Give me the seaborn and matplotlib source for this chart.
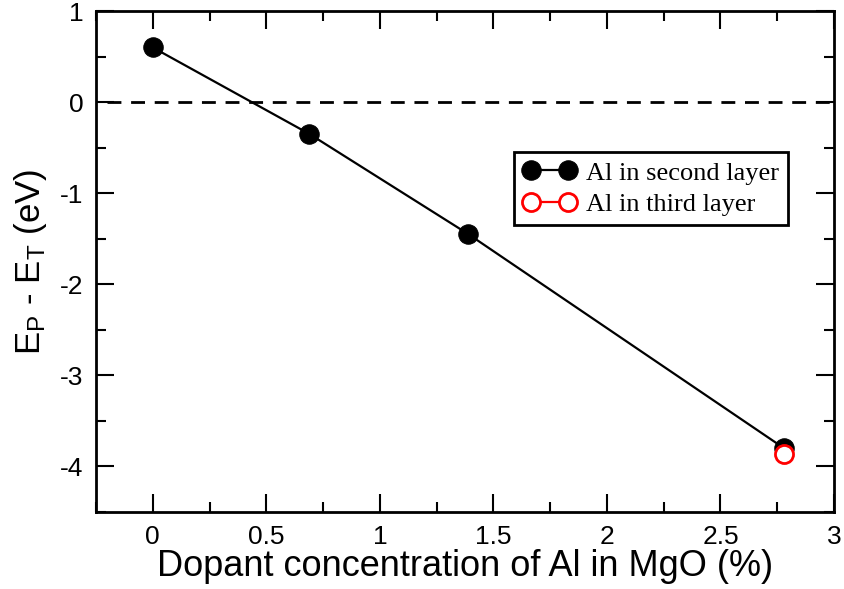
import matplotlib
matplotlib.use("Agg")
import matplotlib.pyplot as plt
import seaborn as sns
import pandas as pd
from matplotlib.ticker import MultipleLocator

# Al dopant concentration (%) and energy difference E_P - E_T (eV)
conc_second = [0.0, 0.69, 1.39, 2.78]
energy_second = [0.60, -0.35, -1.45, -3.80]
conc_third = [2.78]
energy_third = [-3.86]

labels = ["Al in second layer", "Al in third layer"]

sns.set_theme(style="ticks")
plt.rcParams["font.family"] = ["Liberation Sans", "DejaVu Sans"]
plt.rcParams["mathtext.fontset"] = "custom"
plt.rcParams["mathtext.rm"] = "Liberation Sans"
plt.rcParams["text.color"] = "black"
plt.rcParams["axes.labelcolor"] = "black"

fig = plt.figure(figsize=(8.44, 5.89), dpi=100)
ax = fig.add_axes([0.1137, 0.1307, 0.8745, 0.8506])

df2 = pd.DataFrame({"x": conc_second, "y": energy_second})
df3 = pd.DataFrame({"x": conc_third, "y": energy_third})

ax.plot([-0.2, 3.0], [0, 0], color="black", lw=2, ls=(0, (5, 3.5)), zorder=1)

sns.lineplot(data=df2, x="x", y="y", ax=ax, color="black", lw=1.6,
             marker="o", markersize=14, markerfacecolor="black",
             markeredgecolor="black", label=labels[0], zorder=3)
sns.lineplot(data=df3, x="x", y="y", ax=ax, color="red", lw=1.6,
             marker="o", markersize=13, markerfacecolor="white",
             markeredgecolor="red", markeredgewidth=2, label=labels[1], zorder=4)

ax.set_xlim(-0.25, 3.0)
ax.set_ylim(-4.5, 1.0)
ax.xaxis.set_minor_locator(MultipleLocator(0.25))
ax.yaxis.set_minor_locator(MultipleLocator(0.5))
ax.set_xticks([0, 0.5, 1, 1.5, 2, 2.5, 3])
ax.set_xticklabels(["0", "0.5", "1", "1.5", "2", "2.5", "3"])
ax.set_yticks([-4, -3, -2, -1, 0, 1])
ax.set_yticklabels(["-4", "-3", "-2", "-1", "0", "1"])

ax.tick_params(which="both", direction="in", top=True, right=True,
               width=1.5, colors="black", labelsize=19, pad=9)
ax.tick_params(which="major", length=13)
ax.tick_params(which="minor", length=7)
for s in ax.spines.values():
    s.set_linewidth(2)
    s.set_color("black")

ax.set_xlabel("Dopant concentration of Al in MgO (%)", fontsize=26, labelpad=0)
ax.set_ylabel(r"$\mathregular{E_P}$ - $\mathregular{E_T}$ (eV)", fontsize=25, labelpad=8)

leg = ax.legend(loc="upper left", bbox_to_anchor=(0.548, 0.745), numpoints=2,
                handlelength=2.0, handletextpad=0.4, borderpad=0.35,
                labelspacing=0.3, fancybox=False, framealpha=1,
                prop={"family": "Liberation Serif", "size": 19})
leg.get_frame().set_edgecolor("black")
leg.get_frame().set_linewidth(2)

fig.savefig("out.png", dpi=100)
